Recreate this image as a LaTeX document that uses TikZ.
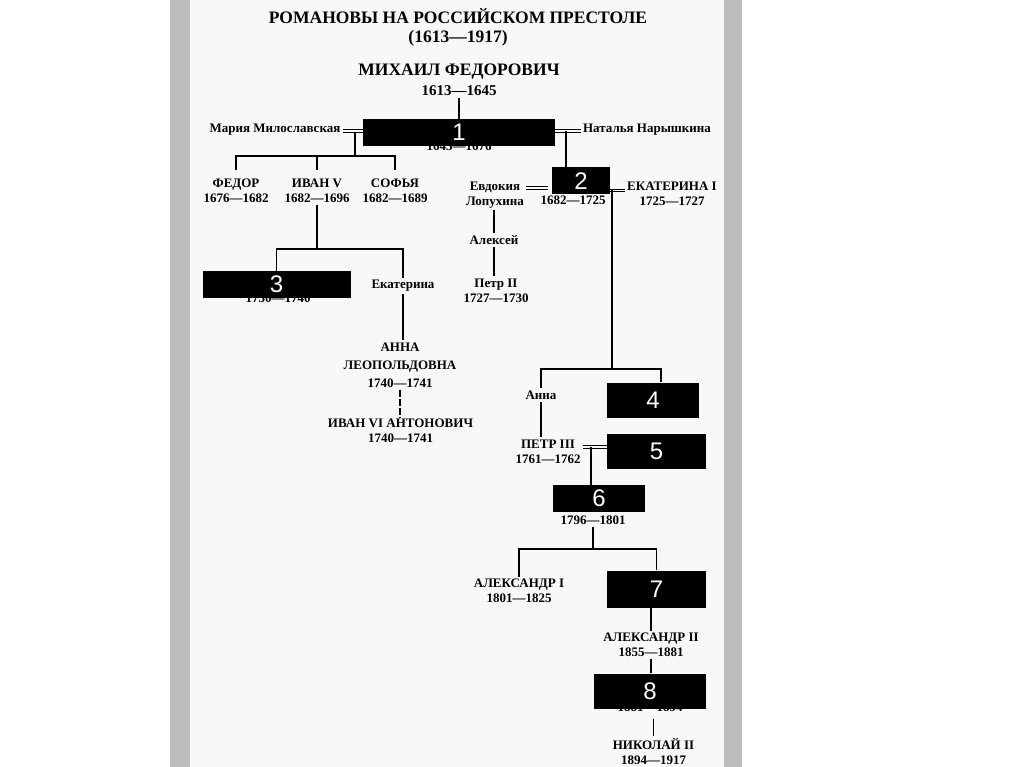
\documentclass[tikz,border=0pt]{standalone}
\usepackage{fontspec}
\setmainfont{Liberation Serif}
\setsansfont{Liberation Sans}
\definecolor{bg}{HTML}{F8F8F8}
\definecolor{bar}{HTML}{BDBDBD}
\begin{document}
\begin{tikzpicture}[x=1pt,y=-1pt,
  person/.style={align=center, font=\bfseries\fontsize{13}{15}\selectfont, inner sep=2pt},
  annastyle/.style={align=center, font=\bfseries\fontsize{13}{18}\selectfont, inner sep=2pt},
  titlestyle/.style={align=center, font=\bfseries\fontsize{17.5}{19}\selectfont, inner sep=1pt},
  bigname/.style={font=\bfseries\fontsize{17.5}{20}\selectfont, inner sep=1pt},
  bigdate/.style={font=\bfseries\fontsize{15}{18}\selectfont, inner sep=2pt},
  blk/.style={fill=black, draw=none, text=white, font=\sffamily\fontsize{24}{24}\selectfont, inner sep=0pt},
  link/.style={draw=black, line width=1.3pt},
  brk/.style={draw=black, line width=1.1pt, dash pattern=on 7pt off 2pt},
  dbl/.style={draw=black, line width=1.05pt, double=bg, double distance=1.8pt},
]
\useasboundingbox (0,0) rectangle (1024,767);
% page
\fill[white] (0,0) rectangle (1024,767);
\fill[bar] (170,0) rectangle (190,767);
\fill[bg] (190,0) rectangle (724,767);
\fill[bar] (724,0) rectangle (742,767);

% texts
\node[titlestyle] (title) at (458,27.5) {РОМАНОВЫ НА РОССИЙСКОМ ПРЕСТОЛЕ\\(1613—1917)};
\node[bigname] (mf) at (459,72) {МИХАИЛ ФЕДОРОВИЧ};
\node[bigdate] (mfd) at (459,91) {1613—1645};
\node[person] (d1) at (459,146) {1645—1676};
\node[person] (maria) at (275,129.5) {Мария Милославская};
\node[person] (natalia) at (647,129.5) {Наталья Нарышкина};
\node[person] (fedor) at (236,191) {ФЕДОР\\1676—1682};
\node[person] (ivan) at (317,191) {ИВАН V\\1682—1696};
\node[person] (sofia) at (395,191) {СОФЬЯ\\1682—1689};
\node[person] (evd) at (495,195) {Евдокия\\Лопухина};
\node[person] (d2) at (573,200) {1682—1725};
\node[person] (ek1) at (672,194) {ЕКАТЕРИНА I\\1725—1727};
\node[person] (alexei) at (494,240) {Алексей};
\node[person] (p2) at (496,290.5) {Петр II\\1727—1730};
\node[person] (d3) at (278,298.5) {1730—1740};
\node[person] (ekat) at (403,286) {Екатерина};
\node[annastyle] (annaL) at (400,365) {АННА\\ЛЕОПОЛЬДОВНА\\1740—1741};
\node[person] (ivan6) at (400.5,431) {ИВАН VI АНТОНОВИЧ\\1740—1741};
\node[person] (anna) at (541,395) {Анна};
\node[person] (p3) at (548,451.5) {ПЕТР III\\1761—1762};
\node[person] (d6) at (593,520) {1796—1801};
\node[person] (a1) at (519,590.7) {АЛЕКСАНДР I\\1801—1825};
\node[person] (a2) at (651,644.8) {АЛЕКСАНДР II\\1855—1881};
\node[person] (d8) at (650,707) {1881—1894};
\node[person] (n2) at (653.5,751.5) {НИКОЛАЙ II\\1894—1917};

% black boxes
\node[blk, minimum width=192pt, minimum height=27pt] (b1) at (459,132.5) {1};
\node[blk, minimum width=58pt, minimum height=27pt] (b2) at (581,181) {2};
\node[blk, minimum width=148pt, minimum height=27pt] (b3) at (276.5,284.5) {3};
\node[blk, minimum width=92pt, minimum height=35pt] (b4) at (653,400) {4};
\node[blk, minimum width=99pt, minimum height=35pt] (b5) at (656.5,451) {5};
\node[blk, minimum width=92pt, minimum height=27pt] (b6) at (599,498.5) {6};
\node[blk, minimum width=99pt, minimum height=37pt] (b7) at (656.5,589) {7};
\node[blk, minimum width=112pt, minimum height=35pt] (b8) at (650,691) {8};

% junctions
\coordinate (jM) at (355,156);
\coordinate (jN) at (566,131);
\coordinate (jI) at (317,249);
\coordinate (jE) at (612,369);
\coordinate (jB) at (661,369);
\coordinate (jC) at (591,447);
\coordinate (jD) at (593,549);

% connectors
\draw[link] (mfd.south) -- (b1.north);
\draw[dbl] ([yshift=1.5pt]b1.west) -- ([yshift=1.5pt]b1.west -| maria.east);
\draw[dbl] ([yshift=1.5pt]b1.east) -- ([yshift=1.5pt]b1.east -| natalia.west);
\draw[link] (jM |- b1.west) -- (jM);
\draw[link] ([yshift=7pt]fedor.north) |- (jM) -| ([yshift=7pt]sofia.north);
\draw[link] (jM -| ivan.north) -- ([yshift=7pt]ivan.north);
\draw[link] (jN) -- (jN |- b2.north);
\draw[dbl] ([xshift=-4pt,yshift=-7pt]b2.west) -- ([yshift=-7pt]b2.west -| evd.east);
\draw[dbl] ([yshift=-9.5pt]b2.east) -- ([yshift=-9.5pt]b2.east -| ek1.west);
\draw[link] (alexei.north |- evd.south) -- (alexei.north);
\draw[link] (alexei.south) -- (alexei.south |- p2.north);
\draw[link] (ivan.south) -- (jI);
\draw[link] (b3.north) |- (jI) -| (ekat.north);
\draw[link] (ekat.south) -- (ekat.south |- annaL.north);
\draw[brk] (annaL.south) -- (annaL.south |- ivan6.north);
\draw[link] ([yshift=-9.5pt]b2.east -| jE) -- (jE);
\draw[link] (anna.north) |- (jB) -- (jB |- b4.north);
\draw[link] (anna.south) -- (anna.south |- p3.north);
\draw[dbl] ([yshift=4pt]b5.west) -- ([yshift=4pt]b5.west -| p3.east);
\draw[link] (jC) -- (jC |- b6.north);
\draw[link] (d6.south) -- (jD);
\draw[link] (a1.north) |- (jD) -| (b7.north);
\draw[link] (b7.south -| a2.north) -- (a2.north);
\draw[link] (a2.south) -- (a2.south |- b8.north);
\draw[link, shorten <=5pt] (n2.north |- d8.south) -- (n2.north);
\end{tikzpicture}
\end{document}
